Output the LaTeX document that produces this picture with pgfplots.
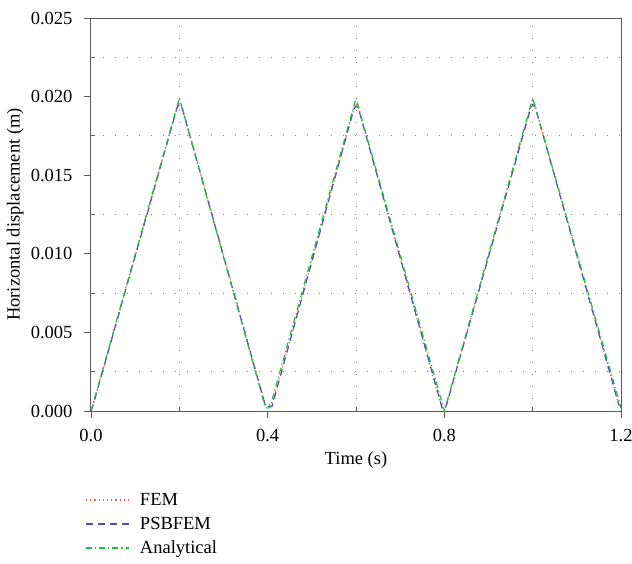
\documentclass[border=0pt]{standalone}
\usepackage{pgfplots}
\pgfplotsset{compat=1.18}
\usepackage{fontspec}
\setmainfont{Liberation Serif}

\definecolor{femred}{RGB}{240,90,80}
\definecolor{psbblue}{RGB}{85,75,185}
\definecolor{anagreen}{RGB}{30,190,60}
\definecolor{axgray}{RGB}{90,90,90}

\begin{document}
\begin{tikzpicture}[font=\fontsize{18.5}{21}\selectfont]
\useasboundingbox (-91pt,-152pt) rectangle (541pt,411pt);
\begin{axis}[
  scale only axis,
  width=530pt, height=393pt,
  at={(0pt,0pt)}, anchor=south west,
  xmin=0, xmax=1.2, ymin=0, ymax=0.025,
  xtick={0,0.4,0.8,1.2},
  ytick={0,0.005,0.01,0.015,0.02,0.025},
  minor x tick num=1, minor y tick num=1,
  xtick pos=bottom, ytick pos=left,
  tick align=outside,
  major tick length=7pt, minor tick length=4pt,
  minor x tick style={yshift=4pt},
  minor y tick style={xshift=4pt},
  every tick/.style={axgray, line width=0.9pt},
  grid=minor,
  minor grid style={gray, line width=0.9pt, dash pattern=on 1pt off 11pt},
  axis line style={axgray, line width=1pt},
  scaled y ticks=false,
  yticklabel style={xshift=-8pt, /pgf/number format/.cd, fixed, fixed zerofill, precision=3, assume math mode=true},
  xticklabel style={yshift=-8pt, /pgf/number format/.cd, fixed, fixed zerofill, precision=1, assume math mode=true},
  xlabel={Time (s)},
  ylabel={Horizontal displacement (m)},
  xlabel style={at={(axis description cs:0.5,-0.125)}, anchor=center},
  ylabel style={at={(axis description cs:-0.143,0.5)}, anchor=center},
  legend style={at={(0,0)}, anchor=north west, xshift=-9pt, yshift=-78pt,
    draw=none, fill=none, row sep=6pt, font=\fontsize{18.5}{21}\selectfont,
    nodes={inner xsep=10pt}},
  legend cell align=left,
  legend image code/.code={\draw[#1, line width=1.8pt] (0pt,0pt) -- (43pt,0pt);},
]
\addplot[color=femred, line width=1.2pt, dash pattern=on 1.2pt off 3pt] coordinates {
(0,0) (0.005,0.0004) (0.195,0.0193) (0.2,0.0196) (0.205,0.0195)
(0.395,0.0004) (0.41,0.0004) (0.595,0.0192) (0.6,0.0195) (0.605,0.0193)
(0.795,0.0001) (0.8,0) (0.805,0.0004) (0.995,0.0193) (1.0,0.0196) (1.005,0.0195)
(1.195,0.0004) (1.2,0.0002)};
\addlegendentry{FEM}
\addplot[color=psbblue, line width=1.2pt, dash pattern=on 7pt off 5pt] coordinates {
(0,0) (0.005,0.0004) (0.195,0.0193) (0.2,0.0195) (0.205,0.0194)
(0.395,0.0003) (0.41,0.0003) (0.595,0.0192) (0.6,0.0194) (0.605,0.0193)
(0.795,0.0002) (0.8,0.0001) (0.805,0.0004) (0.995,0.0192) (1.0,0.0195) (1.005,0.0194)
(1.195,0.0004) (1.2,0.0003)};
\addlegendentry{PSBFEM}
\addplot[color=anagreen, line width=1.2pt, dash pattern=on 6pt off 3pt on 1.2pt off 3pt] coordinates {
(0,0) (0.2,0.0199) (0.395,0.0002) (0.405,0.0002) (0.6,0.0199) (0.8,0) (1.0,0.0199) (1.2,0.0002)};
\addlegendentry{Analytical}
\end{axis}
\end{tikzpicture}
\end{document}
